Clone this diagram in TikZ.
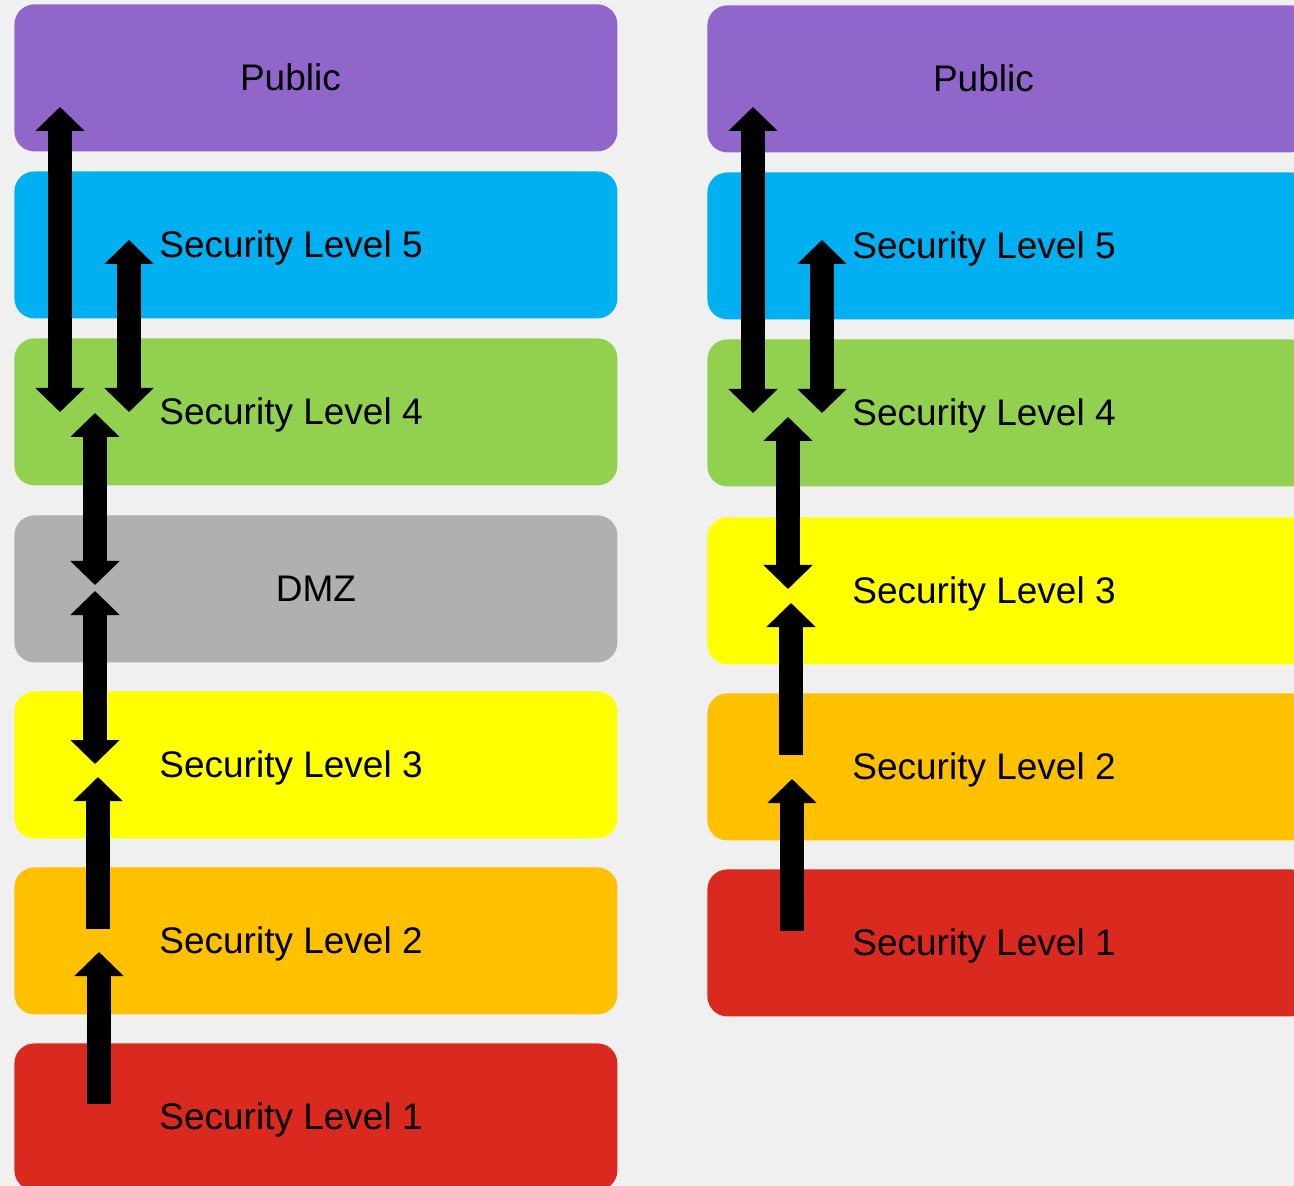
\documentclass[tikz,border=0pt]{standalone}
\usepackage{fontspec}
\setmainfont{Liberation Sans}
\usetikzlibrary{arrows.meta}

\definecolor{backcol}{HTML}{F0F0F0}
\definecolor{publiccol}{HTML}{9166CB}
\definecolor{levelfive}{HTML}{00B0F0}
\definecolor{levelfour}{HTML}{92D050}
\definecolor{dmzcol}{HTML}{B0B0B0}
\definecolor{levelthree}{HTML}{FFFF00}
\definecolor{leveltwo}{HTML}{FFC000}
\definecolor{levelone}{HTML}{DA291E}

\begin{document}
\begin{tikzpicture}[x=0.5pt,y=-0.5pt,
		level box/.style = {rectangle, rounded corners=10pt, inner sep=0pt, anchor=north west,
			minimum width=301.5pt, minimum height=73.5pt},
		level text/.style = {inner sep=0pt, font=\fontsize{18.5}{22}\selectfont},
		one way/.style = {line width=12pt, -{Triangle[length=12pt,width=24pt]}},
		two way/.style = {line width=12pt, {Triangle[length=12pt,width=24pt]}-{Triangle[length=12pt,width=24pt]}}]
	
	\useasboundingbox (0,0) rectangle (1294,1186);
	\fill[backcol] (0,0) rectangle (1294,1186);
	\clip (0,0) rectangle (1294,1186);
	
	% left column
	\node[level box,fill=publiccol] (lpub) at (14,4) {};
	\node[level box,fill=levelfive] (l5) at (14,171) {};
	\node[level box,fill=levelfour] (l4) at (14,338) {};
	\node[level box,fill=dmzcol] (ldmz) at (14,515) {};
	\node[level box,fill=levelthree] (l3) at (14,691) {};
	\node[level box,fill=leveltwo] (l2) at (14,867) {};
	\node[level box,fill=levelone] (l1) at (14,1043) {};
	
	\node[level text,anchor=base] at ([xshift=-12.75pt,yshift=-6.2pt]lpub.center) {Public};
	\node[level text,anchor=base west] at ([xshift=72.5pt,yshift=-6.2pt]l5.west) {Security Level 5};
	\node[level text,anchor=base west] at ([xshift=72.5pt,yshift=-6.2pt]l4.west) {Security Level 4};
	\node[level text,anchor=base] at ([yshift=-6.2pt]ldmz.center) {DMZ};
	\node[level text,anchor=base west] at ([xshift=72.5pt,yshift=-6.2pt]l3.west) {Security Level 3};
	\node[level text,anchor=base west] at ([xshift=72.5pt,yshift=-6.2pt]l2.west) {Security Level 2};
	\node[level text,anchor=base west] at ([xshift=72.5pt,yshift=-6.2pt]l1.west) {Security Level 1};
	
	% right column
	\node[level box,fill=publiccol] (rpub) at (707,5) {};
	\node[level box,fill=levelfive] (r5) at (707,172) {};
	\node[level box,fill=levelfour] (r4) at (707,339) {};
	\node[level box,fill=levelthree] (r3) at (707,517) {};
	\node[level box,fill=leveltwo] (r2) at (707,693) {};
	\node[level box,fill=levelone] (r1) at (707,869) {};
	
	\node[level text,anchor=base] at ([xshift=-12.75pt,yshift=-6.2pt]rpub.center) {Public};
	\node[level text,anchor=base west] at ([xshift=72.5pt,yshift=-6.2pt]r5.west) {Security Level 5};
	\node[level text,anchor=base west] at ([xshift=72.5pt,yshift=-6.2pt]r4.west) {Security Level 4};
	\node[level text,anchor=base west] at ([xshift=72.5pt,yshift=-6.2pt]r3.west) {Security Level 3};
	\node[level text,anchor=base west] at ([xshift=72.5pt,yshift=-6.2pt]r2.west) {Security Level 2};
	\node[level text,anchor=base west] at ([xshift=72.5pt,yshift=-6.2pt]r1.west) {Security Level 1};
	
	% arrow ends
	\coordinate (la1) at (60,107);  \coordinate (la2) at (60,412);
	\coordinate (lb1) at (129,240); \coordinate (lb2) at (129,412);
	\coordinate (lc1) at (95,413);  \coordinate (lc2) at (95,585);
	\coordinate (ld1) at (95,591);  \coordinate (ld2) at (95,764);
	\coordinate (le1) at (98,929);  \coordinate (le2) at (98,777);
	\coordinate (lf1) at (99,1104); \coordinate (lf2) at (99,952);
	
	\coordinate (ra1) at (753,107);  \coordinate (ra2) at (753,413);
	\coordinate (rb1) at (822,240);  \coordinate (rb2) at (822,413);
	\coordinate (rc1) at (788,417);  \coordinate (rc2) at (788,589);
	\coordinate (rd1) at (791,755);  \coordinate (rd2) at (791,603);
	\coordinate (re1) at (792,931);  \coordinate (re2) at (792,779);
	
	\draw[two way] (la1) -- (la2);
	\draw[two way] (lb1) -- (lb2);
	\draw[two way] (lc1) -- (lc2);
	\draw[two way] (ld1) -- (ld2);
	\draw[one way] (le1) -- (le2);
	\draw[one way] (lf1) -- (lf2);
	
	\draw[two way] (ra1) -- (ra2);
	\draw[two way] (rb1) -- (rb2);
	\draw[two way] (rc1) -- (rc2);
	\draw[one way] (rd1) -- (rd2);
	\draw[one way] (re1) -- (re2);
\end{tikzpicture}
\end{document}
